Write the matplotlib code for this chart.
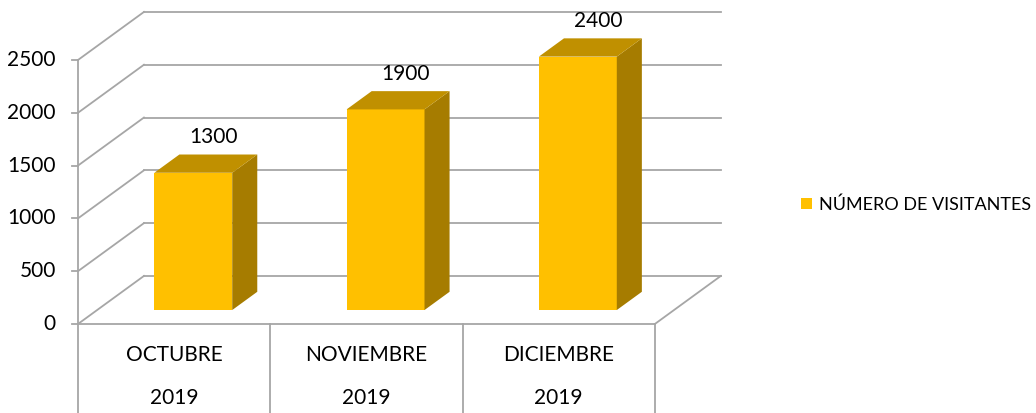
import matplotlib.pyplot as plt
from matplotlib.patches import Polygon

# data
months = ["OCTUBRE", "NOVIEMBRE", "DICIEMBRE"]
years = ["2019", "2019", "2019"]
visitantes = [1300, 1900, 2400]
yticks = [0, 500, 1000, 1500, 2000, 2500]
serie = "NÚMERO DE VISITANTES"

plt.rcParams['font.family'] = ['Lato', 'DejaVu Sans']

fig = plt.figure(figsize=(10.36, 4.13), dpi=100)
ax = fig.add_axes([0, 0, 1, 1])
ax.set_xlim(-0.4056, 4.982)
ax.set_ylim(-843, 3068)
ax.axis('off')

# oblique depth of the 3D box in data units
ddx, ddy = 0.343, 455
d0, d1 = 0.29, 0.67      # depth span of the columns (fraction of box depth)
w = 0.405
grid = '#a6a6a6'
lw = 1.3
n = len(months)

# back wall + left wall gridlines
for v in yticks:
    ax.plot([ddx, n + ddx], [v + ddy, v + ddy], color=grid, lw=lw, zorder=1)
    ax.plot([0, ddx], [v, v + ddy], color=grid, lw=lw, zorder=1)
    ax.plot([-0.033, 0], [v, v], color=grid, lw=lw, zorder=1)
    ax.text(-0.115, v, str(v), ha='right', va='center', fontsize=15, color='#000000')

# floor and front axis
ax.plot([0, n], [0, 0], color=grid, lw=lw, zorder=1)
ax.plot([n, n + ddx], [0, ddy], color=grid, lw=lw, zorder=1)
ax.plot([0, 0], [0, yticks[-1]], color=grid, lw=lw, zorder=1)

# category table below
for i in range(n + 1):
    ax.plot([i, i], [0, -843], color=grid, lw=lw, zorder=1)
for i in range(n):
    ax.text(i + 0.5, -294, months[i], ha='center', va='center', fontsize=15)
    ax.text(i + 0.5, -701, years[i], ha='center', va='center', fontsize=15)

# columns
xs = [i + 0.5 + d0 * ddx for i in range(n)]
base = d0 * ddy
bars = ax.bar(xs, visitantes, width=w, bottom=base, color='#FFC000',
              edgecolor='none', zorder=3, label=serie)
dx = (d1 - d0) * ddx
dy = (d1 - d0) * ddy
for x, v in zip(xs, visitantes):
    l, r, t = x - w / 2, x + w / 2, base + v
    ax.add_patch(Polygon([(r, base), (r + dx, base + dy), (r + dx, t + dy), (r, t)],
                         closed=True, color='#A67C00', lw=0, zorder=3))
    ax.add_patch(Polygon([(l, t), (l + dx, t + dy), (r + dx, t + dy), (r, t)],
                         closed=True, color='#C09000', lw=0, zorder=3))
    ax.text(x + 0.105, v + 470, str(v), ha='center', va='center', fontsize=15)

ax.legend(handles=[bars], loc='center left', bbox_to_anchor=(0.773, 0.505),
          frameon=False, fontsize=13, handlelength=0.6, handleheight=0.6,
          handletextpad=0.4, borderaxespad=0, borderpad=0)

fig.savefig('out.png', dpi=100)
